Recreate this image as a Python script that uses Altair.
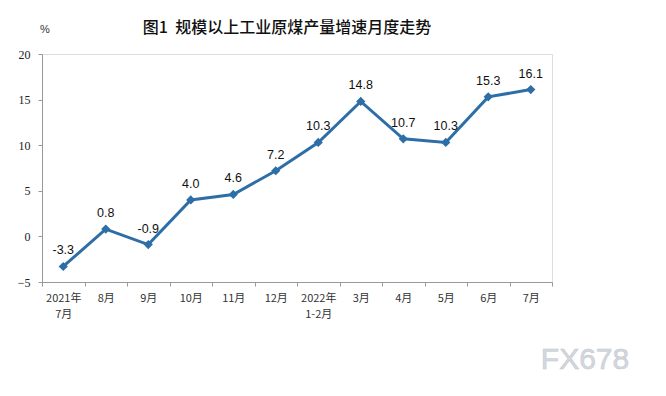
import altair as alt
import pandas as pd

months = ["2021年\n7月", "8月", "9月", "10月", "11月", "12月", "2022年\n1-2月",
          "3月", "4月", "5月", "6月", "7月"]
growth = [-3.3, 0.8, -0.9, 4.0, 4.6, 7.2, 10.3, 14.8, 10.7, 10.3, 15.3, 16.1]
labels = [f"{v:.1f}" for v in growth]
y_ticks = [-5, 0, 5, 10, 15, 20]
title_text = "图1\u00a0\u00a0规模以上工业原煤产量增速月度走势"
unit_text = "%"
watermark = "FX678"

df = pd.DataFrame({"month": months, "growth": growth, "label": labels})
color = "#2E6EA6"

x_enc = alt.X("month:N", sort=months, title=None,
              scale=alt.Scale(paddingInner=0, paddingOuter=0),
              axis=alt.Axis(labelAngle=0, labelExpr="split(datum.label, '\\n')",
                            labelFont="Noto Sans CJK SC", labelFontSize=11,
                            labelColor="#333333", labelPadding=6,
                            tickBand="extent", tickSize=4, tickColor="#999999",
                            domainColor="#999999", grid=False, labelLineHeight=16))
y_enc = alt.Y("growth:Q", title=None,
              scale=alt.Scale(domain=[-5, 20], nice=False),
              axis=alt.Axis(values=y_ticks, labelFont="Liberation Serif",
                            labelFontSize=12, labelColor="#222222",
                            labelPadding=8, tickSize=4, tickColor="#999999",
                            domainColor="#999999", grid=False))

base = alt.Chart(df)
line = base.mark_line(color=color, strokeWidth=3).encode(x=x_enc, y=y_enc)
pts = base.mark_point(shape="diamond", filled=True, color=color, size=85, opacity=1).encode(
    x=alt.X("month:N", sort=months), y="growth:Q")
txt = base.mark_text(dy=-16, font="Liberation Sans", fontSize=12.5, color="#111111").encode(
    x=alt.X("month:N", sort=months), y="growth:Q", text="label:N")

title = alt.Chart(pd.DataFrame({"t": [title_text]})).mark_text(
    font="Noto Sans CJK SC", fontSize=16, fontWeight=500, color="#111111",
    align="center", baseline="middle").encode(
    x=alt.value(245), y=alt.value(-26), text="t:N")
unit = alt.Chart(pd.DataFrame({"t": [unit_text]})).mark_text(
    font="Liberation Sans", fontSize=11, color="#333333",
    align="center", baseline="middle").encode(
    x=alt.value(3), y=alt.value(-24), text="t:N")
wm = alt.Chart(pd.DataFrame({"t": [watermark]})).mark_text(
    font="Liberation Sans", fontSize=30, color="#d4d8df", stroke="#c0c4cc", strokeWidth=0.5,
    align="center", baseline="middle").encode(
    x=alt.value(543), y=alt.value(306), text="t:N")

chart = alt.layer(line, pts, txt, title, unit, wm).properties(
    width=510, height=228,
    autosize=alt.AutoSizeParams(type="none"),
    padding={"left": 34, "top": 46, "right": 90, "bottom": 106},
).configure_view(stroke=None).configure(background="white")

chart.save("out.html", embed_options={"renderer": "svg", "actions": False})
